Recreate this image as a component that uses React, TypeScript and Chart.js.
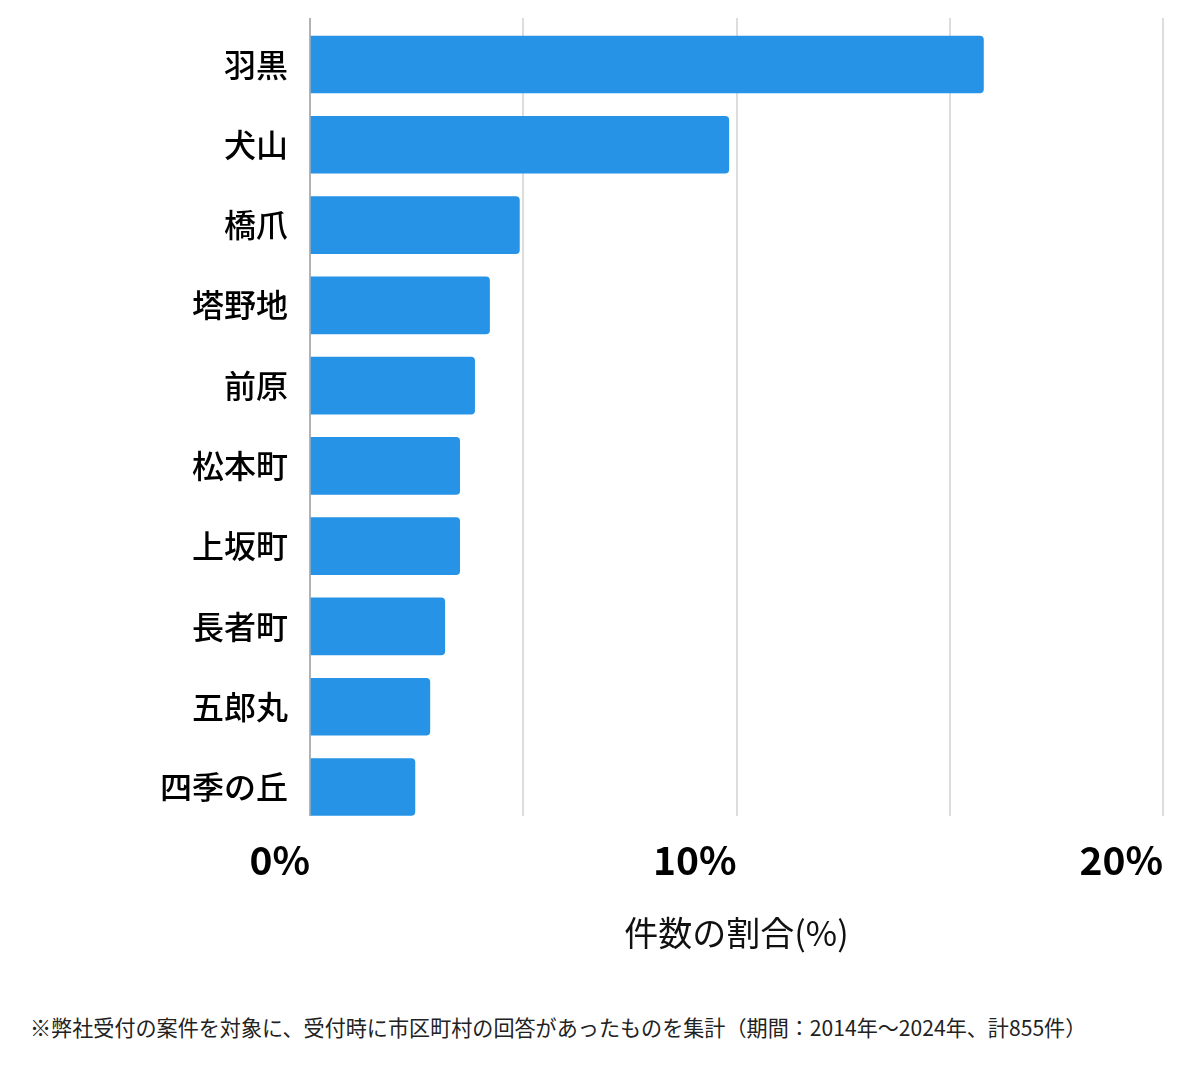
import React, { useEffect, useRef } from 'react';
import { Chart, registerables } from 'chart.js';

Chart.register(...registerables);

const categories = ['羽黒', '犬山', '橋爪', '塔野地', '前原', '松本町', '上坂町', '長者町', '五郎丸', '四季の丘'];
const shares = [15.79, 9.82, 4.91, 4.21, 3.86, 3.51, 3.51, 3.16, 2.81, 2.46];
const xTicks = [0, 5, 10, 15, 20];
const xTickLabels = ['0%', '', '10%', '', '20%'];
const axisTitle = '件数の割合(%)';
const footnote = '※弊社受付の案件を対象に、受付時に市区町村の回答があったものを集計（期間：2014年～2024年、計855件）';

const FONT = "'Noto Sans CJK JP', 'Noto Sans', sans-serif";
const W = 1200;
const H = 1000;
const Y_MIN = -0.579;
const Y_MAX = 9.361;

export default function App() {
  const ref = useRef<HTMLCanvasElement | null>(null);

  useEffect(() => {
    if (!ref.current) return;
    const chart = new Chart(ref.current, {
      type: 'bar',
      data: {
        datasets: [
          {
            data: categories.map((_, i) => ({ x: shares[i], y: i })),
            backgroundColor: '#2693e6',
            borderRadius: 4,
            barThickness: 57,
          },
        ],
      },
      options: {
        indexAxis: 'y',
        responsive: false,
        animation: false,
        layout: { padding: { top: 18, right: 37, left: 0, bottom: 0 } },
        plugins: { legend: { display: false }, tooltip: { enabled: false } },
        scales: {
          x: {
            type: 'linear',
            min: 0,
            max: 20,
            bounds: 'data',
            afterBuildTicks: (s: any) => {
              s.ticks = xTicks.map((v) => ({ value: v }));
              s.min = 0;
              s.max = 20;
            },
            afterFit: (s: any) => {
              s.height = H - 816;
              s.paddingLeft = 0;
              s.paddingRight = 0;
            },
            grid: {
              drawTicks: false,
              lineWidth: 2,
              color: (c: any) => (c.tick && c.tick.value === 0 ? '#b3b3b3' : '#dddddd'),
            },
            border: { display: false },
            ticks: {
              align: 'end',
              padding: 21,
              color: '#000',
              font: { family: FONT, size: 39, weight: 'bold' },
              callback: (_v: any, i: number) => xTickLabels[i],
            },
            title: {
              display: true,
              text: axisTitle,
              color: '#111',
              font: { family: FONT, size: 34, weight: 'normal' },
              padding: { top: 0, bottom: 47 },
            },
          },
          y: {
            type: 'linear',
            reverse: true,
            offset: false,
            min: Y_MIN,
            max: Y_MAX,
            bounds: 'data',
            afterBuildTicks: (s: any) => {
              s.ticks = categories.map((_, i) => ({ value: i }));
              s.min = Y_MIN;
              s.max = Y_MAX;
            },
            afterFit: (s: any) => {
              s.width = 310;
              s.paddingTop = 0;
              s.paddingBottom = 0;
            },
            grid: { display: false, drawTicks: false, offset: false },
            border: { display: false },
            ticks: {
              padding: 22,
              color: '#000',
              font: { family: FONT, size: 32, weight: '500' },
              callback: (v: any) => categories[v],
            },
          },
        },
      },
    });
    return () => chart.destroy();
  }, []);

  return (
    <div style={{ position: 'absolute', left: 0, top: 0, width: W, height: 1069, background: '#fff' }}>
      <canvas ref={ref} width={W} height={H} style={{ display: 'block', width: W, height: H }} />
      <div
        style={{
          position: 'absolute',
          left: 30,
          top: 1013,
          fontFamily: FONT,
          fontSize: 21.1,
          lineHeight: '28px',
          color: '#222',
          whiteSpace: 'nowrap',
        }}
      >
        {footnote}
      </div>
    </div>
  );
}
